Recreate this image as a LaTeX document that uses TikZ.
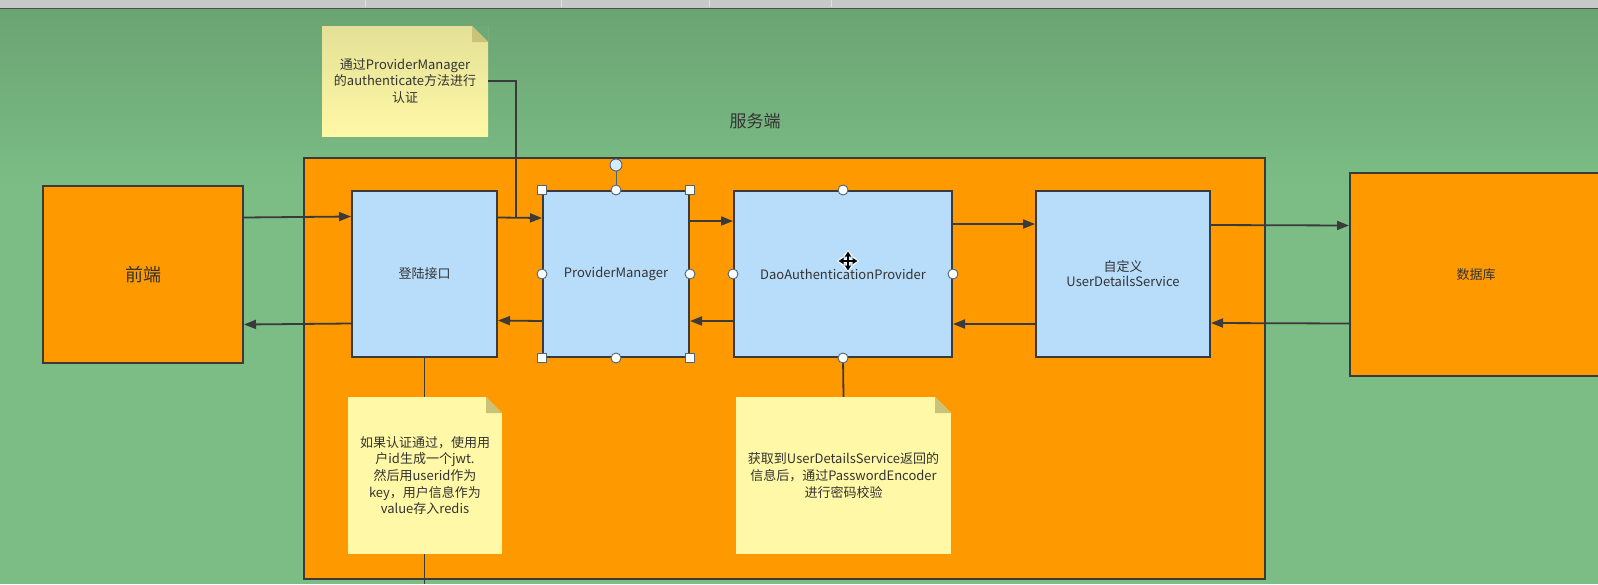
\documentclass[tikz,border=0pt]{standalone}
\usepackage{fontspec}
\setmainfont{Noto Sans CJK SC}
\usepackage{xcolor}
\usetikzlibrary{arrows.meta,positioning,calc}
\definecolor{bgtop}{HTML}{6AA473}
\definecolor{bgbot}{HTML}{7CBD85}
\definecolor{srvorange}{HTML}{FF9900}
\definecolor{boxblue}{HTML}{B8DDFA}
\definecolor{noteyel}{HTML}{FFF8A6}
\definecolor{notetop}{HTML}{E3E197}
\definecolor{notefold}{HTML}{CBC27A}
\definecolor{edge}{HTML}{3A3A3A}
\definecolor{txt}{HTML}{333333}
\definecolor{barbg}{HTML}{C8C8C8}
\definecolor{handle}{HTML}{4F6578}

\begin{document}
\begin{tikzpicture}[
    x=1pt, y=-1pt,
    >={Triangle[length=12pt,width=9pt]},
    every node/.style={text=txt, font=\fontsize{13}{15}\selectfont},
    block/.style={draw=edge, line width=2pt, fill=srvorange, inner sep=0pt},
    step box/.style={draw=edge, line width=2pt, fill=boxblue, inner sep=0pt, minimum height=166pt, align=center},
    note/.style={inner sep=0pt, align=center, font=\fontsize{13}{16.7}\selectfont,
        path picture={
            \fill[#1] (path picture bounding box.north east) -- ++(-16pt,0pt) -- ++(16pt,-16pt) -- cycle;
            \fill[notefold] ($(path picture bounding box.north east)+(-16pt,0pt)$) -- ++(0pt,-16pt) -- ++(16pt,0pt) -- cycle;
        }},
    flow/.style={->, draw=edge, line width=1.8pt},
    link/.style={draw=edge, line width=1.8pt},
    sqhandle/.style={draw=handle, fill=white, line width=0.9pt, minimum size=9pt, inner sep=0pt},
    cirhandle/.style={circle, draw=handle, fill=white, line width=0.9pt, minimum size=10pt, inner sep=0pt}
]
\useasboundingbox (0,0) rectangle (1598,584);
\fill[bgbot] (0,8) rectangle (1598,584);
\shade[top color=bgtop, bottom color=bgbot] (0,8) rectangle (1598,190);
\fill[barbg] (0,0) rectangle (1598,8);
\draw[black!70, line width=1pt] (0,8) -- (1598,8);
\foreach \sx in {365,561,709,831} {
    \draw[white!88!black, line width=0.8pt] (\sx,0) -- (\sx,7);
}

\node[block, minimum width=961pt, minimum height=421pt] (server) at (784.5,368.5) {};
\node[font=\fontsize{17}{20}\selectfont] (srvlabel) at (755,121) {服务端};

\node[block, minimum width=200pt, minimum height=177pt, font=\fontsize{18}{20}\selectfont] (fe) at (143,274.5) {前端};
\node[block, minimum width=252pt, minimum height=203pt] (db) at (1476,274.5) {数据库};

\node[step box, minimum width=145pt] (login) at (424.5,273.5) {登陆接口};
\node[step box, minimum width=146pt] (pm) at (616,274) {ProviderManager};
\node[step box, minimum width=218pt] (dao) at (843,274) {DaoAuthenticationProvider};
\node[step box, minimum width=174pt] (uds) at (1123,274) {自定义\\UserDetailsService};

\draw[flow] ([yshift=57pt]fe.east) -- ([yshift=57pt]login.west);
\draw[flow] ([yshift=-50pt]login.west) -- ([yshift=-50pt]fe.east);
\draw[flow] ([yshift=56pt]login.east) -- ([yshift=56pt]pm.west);
\draw[flow] ([yshift=-47pt]pm.west) -- ([yshift=-47pt]login.east);
\draw[flow] ([yshift=53pt]pm.east) -- ([yshift=53pt]dao.west);
\draw[flow] ([yshift=-47pt]dao.west) -- ([yshift=-47pt]pm.east);
\draw[flow] ([yshift=50pt]dao.east) -- ([yshift=50pt]uds.west);
\draw[flow] ([yshift=-50pt]uds.west) -- ([yshift=-50pt]dao.east);
\draw[flow] ([yshift=49pt]uds.east) -- ([yshift=49pt]db.west);
\draw[flow] ([yshift=-49pt]db.west) -- ([yshift=-49pt]uds.east);

\coordinate (tipend) at (516,217);
\coordinate (loginend) at (login.south |- 0,584);
\draw[link] (login.south) -- (loginend);

\node[note=bgtop!75!bgbot, top color=notetop, bottom color=noteyel, minimum width=166pt, minimum height=110pt] (tip) at (405,81)
    {通过ProviderManager\\的authenticate方法进行\\认证};
\node[note=srvorange, fill=noteyel, minimum width=154pt, minimum height=157pt] (jwtnote) at (425,475.5)
    {如果认证通过，使用用\\户id生成一个jwt.\\然后用userid作为\\key，用户信息作为\\value存入redis};
\node[note=srvorange, fill=noteyel, minimum width=215pt, minimum height=157pt] (checknote) at (843.5,475.5)
    {获取到UserDetailsService返回的\\信息后，通过PasswordEncoder\\进行密码校验};

\draw[link] (tip.east) -| (tipend);
\draw[link] (dao.south) -- (checknote.north);

\draw[handle, line width=0.9pt] (pm.north) -- ++(0,-20);
\node[cirhandle, minimum size=12pt, fill=boxblue!60!white] (rot) at (616,165) {};
\foreach \a in {north west,north east,south west,south east} {
    \node[sqhandle] at (pm.\a) {};
}
\foreach \a in {north,south,east,west} {
    \node[cirhandle] at (pm.\a) {};
    \node[cirhandle] at (dao.\a) {};
}

\draw[white, line width=4pt, {Triangle[length=6pt,width=9pt]}-{Triangle[length=6pt,width=9pt]}] (837,261) -- (859,261);
\draw[white, line width=4pt, {Triangle[length=6pt,width=9pt]}-{Triangle[length=6pt,width=9pt]}] (848,250) -- (848,272);
\draw[black, line width=1.2pt, {Triangle[length=5pt,width=6pt]}-{Triangle[length=5pt,width=6pt]}] (838.5,261) -- (857.5,261);
\draw[black, line width=1.2pt, {Triangle[length=5pt,width=6pt]}-{Triangle[length=5pt,width=6pt]}] (848,251.5) -- (848,270.5);
\end{tikzpicture}
\end{document}
